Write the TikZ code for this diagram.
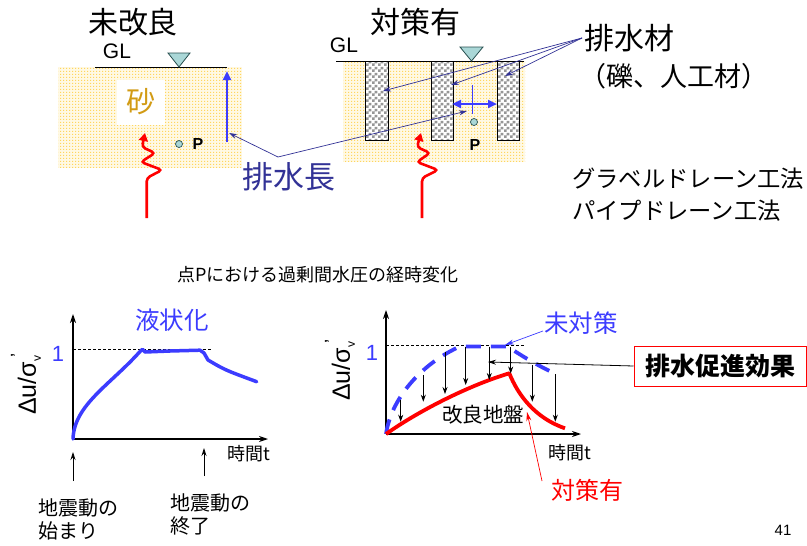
\documentclass[tikz,border=0pt]{standalone}
\usepackage{fontspec}
\setmainfont{Liberation Sans}
\newfontfamily\jp{Noto Sans CJK JP}
\usetikzlibrary{arrows.meta,patterns}

% coarse checkerboard for the drain columns
\pgfdeclarepatternformonly{chk}{\pgfpointorigin}{\pgfqpoint{6pt}{6pt}}{\pgfqpoint{6pt}{6pt}}{%
  \pgfpathrectangle{\pgfpointorigin}{\pgfqpoint{3pt}{3pt}}%
  \pgfpathrectangle{\pgfqpoint{3pt}{3pt}}{\pgfqpoint{3pt}{3pt}}%
  \pgfusepath{fill}}

% speckled sand: square grains on a 3pt grid
\pgfdeclarepatternformonly{grain}{\pgfpointorigin}{\pgfqpoint{3pt}{3pt}}{\pgfqpoint{3pt}{3pt}}{%
  \pgfpathrectangle{\pgfpointorigin}{\pgfqpoint{1.4pt}{1.4pt}}%
  \pgfusepath{fill}}

\definecolor{sandbg}{RGB}{255,249,228}
\definecolor{sanddot}{RGB}{255,214,95}
\definecolor{sandtxt}{RGB}{210,155,20}
\definecolor{watr}{RGB}{170,215,215}
\definecolor{watredge}{RGB}{40,80,80}
\definecolor{lblue}{RGB}{60,60,255}
\definecolor{navy}{RGB}{50,50,150}
\definecolor{chkgray}{RGB}{150,150,150}

\newcommand{\dusig}{Δu/σ\raisebox{-0.2em}{\fontsize{12}{12}\selectfont v}\kern-0.05em\raisebox{0.5em}{\fontsize{18}{18}\selectfont ’}}

\tikzset{
  jp/.style={font={\jp\fontsize{#1}{#1}\selectfont}, inner sep=0pt},
  lat/.style={font={\fontsize{#1}{#1}\selectfont}, inner sep=0pt},
  sand/.style={fill=sandbg},
  sanddots/.style={pattern=grain, pattern color=sanddot},
  ground/.style={line width=1pt, black},
  wtri/.style={fill=watr, draw=watredge, line width=0.8pt},
  ppt/.style={circle, fill=watr, draw=watredge, line width=0.7pt, minimum size=7pt, inner sep=0pt},
  column/.style={draw=black, line width=0.8pt},
  quake/.style={red, line width=2.6pt, rounded corners=3.5pt, -{Triangle[length=8pt,width=9pt]}},
  lenarrow/.style={lblue, line width=2.6pt, -{Triangle[length=9pt,width=8pt]}},
  spanarrow/.style={lblue, line width=2.6pt, {Triangle[length=9pt,width=8pt]}-{Triangle[length=9pt,width=8pt]}},
  pointer/.style={navy, line width=0.7pt, -{Stealth[length=8pt,width=5pt]}},
  axis/.style={black, line width=1.1pt, -{Stealth[length=9pt,width=6pt]}},
  thinarrow/.style={black, line width=0.8pt, -{Stealth[length=8pt,width=5pt]}},
  onelevel/.style={black, line width=0.7pt, dash pattern=on 3pt off 2pt},
  bluecurve/.style={lblue, line width=3.5pt, line join=round, line cap=round},
  bluedash/.style={lblue, line width=3.8pt, dash pattern=on 15pt off 10pt},
  redcurve/.style={red, line width=3.8pt, line join=round},
  drop/.style={black, line width=0.8pt, -{Stealth[length=7pt,width=5pt]}},
}

\begin{document}
\begin{tikzpicture}[x=1pt,y=-1pt]
\useasboundingbox[fill=white] (0,0) rectangle (807,546);

% ---------------- ground without drains ----------------
\fill[sand] (58,67) rectangle (242,168);
\fill[sanddots] (58,67) rectangle (242,168);
\node[jp=30] (t1) at (133,22) {未改良};
\node[lat=21] (gl1) at (117,51) {GL};
\coordinate (g1a) at (95,67);
\coordinate (g1b) at (227,67);
\draw[ground] (g1a) -- (g1b);
\draw[wtri] (168,53) -- (190,53) -- (179,67) -- cycle;
\node[fill=white, minimum width=48pt, minimum height=45pt, inner sep=0pt] (sbox) at (141,102) {};
\node[jp=29, text=sandtxt] (sandlbl) at (sbox) {砂};
\node[ppt] (p1) at (179,144) {};
\node[font={\fontsize{16}{16}\selectfont\bfseries}, inner sep=0pt] (p1l) at (198,144) {P};
\coordinate (len1b) at (227,142);
\coordinate (len1t) at (227,71);
\draw[lenarrow] (len1b) -- (len1t);
\coordinate (q1) at (146.7,218);
\draw[quake] (q1) -- (146.7,178) -- (162,170) -- (141,162) -- (155,153) -- (142,147) -- (145,133);

% ---------------- ground with drains ----------------
\fill[sand] (343,61) rectangle (525,162);
\fill[sanddots] (343,61) rectangle (525,162);
\node[jp=30] (t2) at (415,22) {対策有};
\node[lat=21] (gl2) at (344,45) {GL};
\coordinate (g2a) at (336,61);
\coordinate (g2b) at (524,61);
\draw[ground] (g2a) -- (g2b);
\draw[wtri] (460,47) -- (483,47) -- (471.5,61) -- cycle;
\foreach \n/\xa/\xb in {1/365/388, 2/431/453, 3/497/519}{
  \fill[white] (\xa,61) rectangle (\xb,140);
  \fill[pattern=chk, pattern color=chkgray] (\xa,61) rectangle (\xb,140);
  \draw[column] (\xa,61) rectangle (\xb,140);
  \coordinate (col\n) at (\xa,61);
}
\coordinate (sp1) at (452,104);
\coordinate (sp2) at (497,104);
\draw[spanarrow] (sp1) -- (sp2);
\coordinate (mid1) at (472,85);
\coordinate (mid2) at (472,114);
\draw[lblue, line width=1pt] (mid1) -- (mid2);
\node[ppt] (p2) at (474,122) {};
\node[font={\fontsize{16}{16}\selectfont\bfseries}, inner sep=0pt] (p2l) at (475,145) {P};
\coordinate (q2) at (422,218);
\draw[quake] (q2) -- (422,178) -- (438,170) -- (417,162) -- (430,153) -- (417,147) -- (421,133);

% drainage length label
\node[jp=31, text=navy] (hlen) at (289,177) {排水長};
\coordinate (hl) at (278,157);
\coordinate (hl1) at (229,133);
\coordinate (hl2) at (467,111);
\draw[pointer] (hl) -- (hl1);
\draw[pointer] (hl) -- (hl2);

% drain material label
\node[jp=30] (dm) at (629,38) {排水材};
\node[jp=27, anchor=west] (dm2) at (579,76) {（礫、人工材）};
\coordinate (dmo) at (582,38);
\coordinate (dc1) at (383,91);
\coordinate (dc2) at (451,85);
\coordinate (dc3) at (505,76);
\draw[pointer] (dmo) -- (dc1);
\draw[pointer] (dmo) -- (dc2);
\draw[pointer] (dmo) -- (dc3);

\node[jp=23.3, anchor=west] (m1) at (572,179) {グラベルドレーン工法};
\node[jp=23.3, anchor=west] (m2) at (572,211) {パイプドレーン工法};

\node[jp=18] (cap) at (318,275) {点Pにおける過剰間水圧の経時変化};

% ---------------- left graph ----------------
\coordinate (o1) at (73,439);
\coordinate (y1) at (73,314);
\coordinate (x1) at (268,439);
\draw[axis] (o1) -- (y1);
\draw[axis] (o1) -- (x1);
\coordinate (one1a) at (73,349);
\coordinate (one1b) at (212,349);
\draw[onelevel] (one1a) -- (one1b);
\node[lat=22, text=lblue] (n1) at (58,354) {1};
\node[rotate=90, lat=25] (yl1) at (26,384) {\dusig};
\node[jp=24.5, text=lblue] (liq) at (172,320) {液状化};
\draw[bluecurve] (o1) .. controls (74,405) and (110,385) .. (140,351.5)
  -- (142.5,349.3) -- (145,352) -- (170,351) -- (200,350.2) -- (204,353)
  -- (208,360) .. controls (225,370) .. (256.7,381.7);
\node[jp=18, anchor=west] (tt1) at (227,454) {時間t};
\coordinate (s1b) at (73,481);
\coordinate (s1t) at (73,452);
\draw[thinarrow] (s1b) -- (s1t);
\coordinate (e1b) at (204,476);
\coordinate (e1t) at (204,448);
\draw[thinarrow] (e1b) -- (e1t);
\node[jp=20, anchor=west] (st1) at (38,508) {地震動の};
\node[jp=20, anchor=west] (st2) at (38,531) {始まり};
\node[jp=20, anchor=west] (en1) at (170,503) {地震動の};
\node[jp=20, anchor=west] (en2) at (170,526) {終了};

% ---------------- right graph ----------------
\coordinate (o2) at (386,434);
\coordinate (y2) at (386,310);
\coordinate (x2) at (581,434);
\draw[axis] (o2) -- (y2);
\draw[axis] (o2) -- (x2);
\coordinate (one2a) at (386,345);
\coordinate (one2b) at (525,345);
\draw[onelevel] (one2a) -- (one2b);
\node[lat=22, text=lblue] (n2) at (372,353) {1};
\node[rotate=90, lat=25] (yl2) at (340,370) {\dusig};
\draw[bluedash] (o2) .. controls (392,395) and (425,362) .. (460,346.5)
  -- (507,346.5) .. controls (520,354) and (530,362) .. (558,375);
\coordinate (pk) at (509.3,373.3);
\draw[redcurve] (o2) .. controls (420,410) and (470,385) .. (pk)
  .. controls (518,395) and (535,418) .. (565,428.3);
\foreach \i/\x/\ya/\yb in {1/400.7/400/421.7, 2/423.3/375/401.7, 3/445/351.7/394,
    4/465.7/346.5/385, 5/489.3/346.5/380, 6/510.7/347/373.5, 7/532.3/365/401.7, 8/555.3/374/421.7}{
  \coordinate (d\i t) at (\x,\ya);
  \coordinate (d\i b) at (\x,\yb);
  \draw[drop] (d\i t) -- (d\i b);
}
\node[jp=20.5] (kai) at (483,415) {改良地盤};
\node[jp=18, anchor=west] (tt2) at (548,453) {時間t};

\node[jp=24.5, text=lblue] (nt) at (581,323) {未対策};
\coordinate (ntp) at (543,331);
\coordinate (ntq) at (505,345);
\draw[lblue, line width=0.7pt, -{Stealth[length=9pt,width=5pt]}] (ntp) -- (ntq);

\node[draw=red, line width=1pt, minimum width=172pt, minimum height=40pt, inner sep=0pt,
      font={\jp\fontsize{25}{25}\selectfont\bfseries}] (box) at (720,366) {排水促進効果};
\coordinate (bx) at (488,362);
\draw[thinarrow] (box.west) -- (bx);

\node[jp=24, text=red] (ty) at (587,490) {対策有};
\coordinate (typ) at (542,481);
\coordinate (tyq) at (527,412);
\draw[red, line width=0.7pt, -{Stealth[length=9pt,width=5pt]}] (typ) -- (tyq);

\node[lat=15] (pg) at (783,530) {41};
\end{tikzpicture}
\end{document}
